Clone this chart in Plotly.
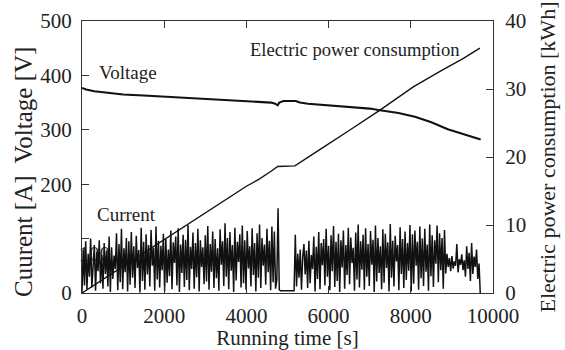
import plotly.graph_objects as go

# ---------------- data ----------------
# Voltage [V]
volt_t = [0, 100, 300, 600, 1000, 1500, 2000, 2500, 3000, 3500, 4000, 4400, 4600, 4700,
          4760, 4800, 4900, 5200, 5300, 5500, 6000, 6500, 7000, 7250, 7700, 8100, 8500,
          8900, 9300, 9600, 9700]
volt_v = [377, 374, 371, 368, 365, 363, 361, 359, 357, 355, 353, 352, 350, 348,
          345, 350, 353, 353, 350, 348, 345, 342, 339, 336, 331, 324, 314,
          301, 292, 284, 282]

# Electric power consumption [kWh]
power_t = [0, 1000, 2000, 3000, 3520, 4000, 4300, 4410, 4600, 4760, 5180, 5710, 6160,
           6500, 7250, 8060, 8710, 9280, 9680]
power_e = [0, 3.9, 7.8, 11.8, 13.8, 15.7, 16.7, 17.1, 17.9, 18.6, 18.7, 20.8, 22.5,
           23.9, 26.9, 30.3, 32.6, 34.5, 36.0]

# Current [A], sampled every 30 s from 0 to 9690 s
current_t = list(range(0, 9691, 30))
current_a = [
    2, 80, 14, 95, 6, 72, 30, 100, 10, 66,
    88, 4, 76, 40, 97, 18, 70, 8, 92, 35,
    78, 12, 104, 2, 84, 26, 69, 44, 110, 5,
    90, 20, 118, 7, 82, 38, 101, 3, 95, 15,
    112, 28, 86, 9, 105, 46, 79, 1, 120, 22,
    94, 6, 108, 34, 88, 12, 116, 50, 83, 4,
    122, 25, 96, 10, 87, 42, 109, 3, 100, 19,
    80, 31, 115, 7, 93, 55, 104, 14, 119, 2,
    89, 37, 107, 11, 98, 24, 125, 5, 85, 44,
    111, 8, 92, 29, 118, 3, 97, 48, 84, 16,
    106, 21, 123, 6, 90, 39, 113, 9, 99, 27,
    82, 4, 117, 52, 95, 13, 128, 30, 101, 7,
    112, 41, 88, 2, 120, 23, 94, 57, 108, 10,
    124, 18, 97, 6, 114, 45, 86, 12, 119, 33,
    92, 3, 110, 28, 126, 9, 101, 50, 89, 15,
    118, 38, 96, 5, 122, 20, 113, 8, 24, 156,
    6, 4, 4, 5, 4, 4, 5, 4, 4, 4,
    4, 5, 4, 107, 12, 72, 28, 80, 6, 66,
    90, 34, 78, 9, 96, 18, 70, 44, 104, 3,
    85, 26, 112, 7, 92, 51, 99, 14, 118, 30,
    87, 5, 106, 40, 123, 11, 94, 22, 109, 2,
    97, 47, 115, 8, 88, 33, 120, 16, 102, 55,
    83, 4, 111, 25, 126, 10, 95, 43, 107, 6,
    119, 30, 90, 13, 114, 52, 98, 2, 124, 21,
    101, 37, 86, 7, 117, 19, 109, 46, 93, 3,
    127, 28, 96, 12, 105, 58, 88, 5, 121, 35,
    99, 9, 113, 24, 92, 41, 125, 3, 108, 17,
    115, 50, 94, 6, 122, 27, 100, 13, 118, 39,
    89, 4, 126, 31, 106, 11, 97, 54, 124, 20,
    110, 42, 101, 8, 116, 36, 72, 48, 64, 40,
    68, 45, 58, 50, 90, 38, 62, 52, 71, 42,
    60, 30, 86, 44, 74, 22, 92, 35, 67, 48,
    80, 26, 54, 0,
]

x_ticks = [0, 2000, 4000, 6000, 8000, 10000]
x_ticktext = ["0", "2000", "4000", "6000", "8000", "10000"]
y_ticks = [0, 100, 200, 300, 400, 500]
y_ticktext = ["0", "", "200", "300", "400", "500"]
y2_ticks = [0, 10, 20, 30, 40]

FONT = "Liberation Serif"

fig = go.Figure()

# the half-hidden "100" tick label lies beneath the current trace in the reference
fig.add_trace(go.Scatter(x=[300], y=[68], mode="text", text=["100"],
                         textfont=dict(family=FONT, size=21, color="#333"),
                         cliponaxis=False, showlegend=False, hoverinfo="skip"))

fig.add_trace(go.Scatter(x=current_t, y=current_a, mode="lines",
                         line=dict(color="#111", width=1.5), showlegend=False))
fig.add_trace(go.Scatter(x=volt_t, y=volt_v, mode="lines",
                         line=dict(color="#111", width=2.1), showlegend=False))
fig.add_trace(go.Scatter(x=power_t, y=power_e, mode="lines", yaxis="y2",
                         line=dict(color="#111", width=1.4), showlegend=False))

axis_common = dict(showgrid=False, zeroline=False, showline=True, linecolor="#333",
                   linewidth=1, ticks="inside", ticklen=7, tickcolor="#333",
                   tickfont=dict(family=FONT, size=21, color="#222"))

fig.update_layout(
    width=565, height=350,
    margin=dict(l=82, r=72, t=21, b=57, autoexpand=False),
    paper_bgcolor="white", plot_bgcolor="white",
    font=dict(family=FONT, color="#222"),
    xaxis=dict(range=[0, 10000], tickvals=x_ticks, ticktext=x_ticktext, mirror="ticks",
               title=dict(text="Running time [s]", font=dict(family=FONT, size=21), standoff=8),
               ticklabelstandoff=4, automargin=False, **axis_common),
    yaxis=dict(range=[0, 500], tickvals=y_ticks, ticktext=y_ticktext,
               ticklabelstandoff=5, automargin=False, **axis_common),
    yaxis2=dict(range=[0, 40], tickvals=y2_ticks, overlaying="y", side="right",
                title=dict(text="Electric power consumption [kWh]", font=dict(family=FONT, size=22), standoff=14),
                ticklabelstandoff=7, automargin=False, **axis_common),
    annotations=[
        dict(x=-0.141, y=0.445, xref="paper", yref="paper", text="Cuurent [A]  Voltage [V]",
             textangle=-90, showarrow=False, xanchor="center", yanchor="middle",
             font=dict(family=FONT, size=25, color="#222")),
        dict(x=365, y=406, xref="x", yref="y", text="Voltage", showarrow=False,
             xanchor="left", yanchor="middle", font=dict(family=FONT, size=19, color="#222")),
        dict(x=4040, y=448, xref="x", yref="y", text="Electric power consumption", showarrow=False,
             xanchor="left", yanchor="middle", font=dict(family=FONT, size=18.6, color="#222")),
        dict(x=316, y=145, xref="x", yref="y", text="Current", showarrow=False,
             xanchor="left", yanchor="middle", font=dict(family=FONT, size=19, color="#222")),
    ],
)

fig.write_html("out.html")
